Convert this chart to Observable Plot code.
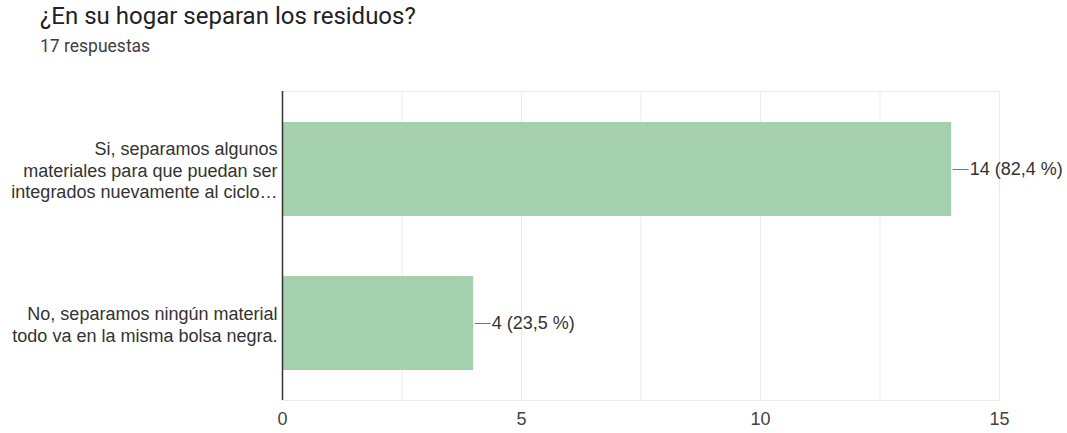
<!DOCTYPE html>
<html><head><meta charset="utf-8">
<script src="https://cdn.jsdelivr.net/npm/d3@7"></script>
<script src="https://cdn.jsdelivr.net/npm/@observablehq/plot@0.6"></script>
<style>
body{margin:0;background:#fff;}
#head{position:relative;height:70px;width:1067px;}
#title{position:absolute;left:40px;top:2px;font:24px Roboto, sans-serif;color:#202124;white-space:nowrap;}
#sub{position:absolute;left:40px;top:36px;font:17.5px Roboto, sans-serif;color:#3c4043;white-space:nowrap;}
</style></head>
<body>
<div id="head"><div id="title">¿En su hogar separan los residuos?</div><div id="sub">17 respuestas</div></div>
<div id="chart"></div>
<script>
const categories = [
  "Si, separamos algunos\nmateriales para que puedan ser\nintegrados nuevamente al ciclo…",
  "No, separamos ningún material\ntodo va en la misma bolsa negra."
];
const counts = [14, 4];
const valueLabels = ["14 (82,4 %)", "4 (23,5 %)"];
const xTicks = [0, 5, 10, 15];
const gridTicks = [0, 2.5, 5, 7.5, 10, 12.5, 15];

const data = categories.map((c, i) => ({cat: c, n: counts[i], lab: valueLabels[i]}));
const hline = {draw(ctx){ ctx.moveTo(1, 0); ctx.lineTo(17, 0); }};

const chart = Plot.plot({
  width: 1067, height: 363,
  marginTop: 21, marginBottom: 33, marginLeft: 282, marginRight: 68,
  style: {fontFamily: "Arial, 'Liberation Sans', sans-serif", fontSize: "18px", color: "#333"},
  x: {domain: [0, 15], ticks: xTicks, label: null},
  y: {domain: categories, padding: 0, label: null},
  marks: [
    Plot.gridX(gridTicks, {stroke: "#ebebeb", strokeOpacity: 1}),
    Plot.frame({stroke: "#ebebeb"}),
    Plot.barX(data, {x: "n", y: "cat", fill: "#a4d0ae", insetTop: 30, insetBottom: 30}),
    Plot.ruleX([0], {stroke: "#333", strokeWidth: 1.5}),
    Plot.dot(data, {x: "n", y: "cat", symbol: hline, stroke: "#777", strokeWidth: 1, r: 1}),
    Plot.text(data, {x: "n", y: "cat", text: "lab", textAnchor: "start", dx: 18, fill: "#333", fontSize: 18}),
    Plot.axisX({ticks: xTicks, tickSize: 0, tickPadding: 12, fontSize: 18, fill: "#444", label: null}),
    Plot.axisY({tickSize: 0, tickPadding: 5, fontSize: 18, fill: "#333", lineHeight: 1.22, label: null})
  ]
});
document.getElementById("chart").append(chart);
</script>
</body></html>
